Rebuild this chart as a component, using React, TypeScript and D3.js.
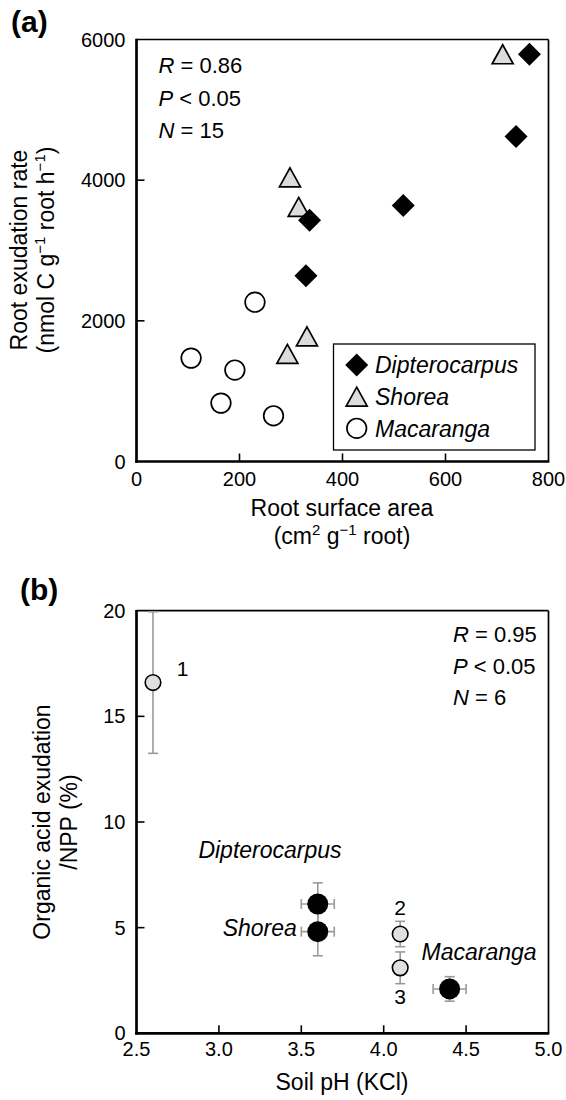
import React from "react";
import * as d3 from "d3";

const FONT = "'Liberation Sans', Arial, Helvetica, sans-serif";

// Panel (a) data: root surface area (cm2 g-1) vs root exudation rate
const dipteroArea = [763, 737, 518, 336, 329];
const dipteroRate = [5790, 4620, 3640, 3430, 2640];
const shoreaArea = [711, 298, 315, 331, 293];
const shoreaRate = [5790, 4040, 3620, 1780, 1530];
const macarangaArea = [230, 106, 191, 164, 266];
const macarangaRate = [2265, 1470, 1300, 830, 650];
const aXTicks = [0, 200, 400, 600, 800];
const aYTicks = [0, 2000, 4000, 6000];
const legendNames = ["Dipterocarpus", "Shorea", "Macaranga"];

// Panel (b) data: soil pH vs organic acid exudation / NPP
const sitePH = [2.6, 4.1, 4.1];
const siteRatio = [16.6, 4.7, 3.1];
const siteErr = [3.35, 0.6, 0.75];
const siteLabels = ["1", "2", "3"];
const siteLabelPH = [2.78, 4.1, 4.1];
const siteLabelRatio = [16.9, 5.6, 1.4];
const genusPH = [3.6, 3.6, 4.4];
const genusRatio = [6.12, 4.81, 2.1];
const genusYErr = [1.0, 1.14, 0.58];
const genusXErr = [0.1, 0.1, 0.1];
const genusNames = ["Dipterocarpus", "Shorea", "Macaranga"];
const genusLabelPH = [3.31, 3.473, 4.23];
const genusLabelRatio = [8.3, 4.6, 3.47];
const genusLabelAnchor = ["middle", "end", "start"];
const bXTicks = [2.5, 3.0, 3.5, 4.0, 4.5, 5.0];
const bYTicks = [0, 5, 10, 15, 20];

const diamond = (h: number) => `M0,${-h}L${h},0L0,${h}L${-h},0Z`;
const triangle = (w: number, h: number) =>
  `M0,${-h / 2}L${w / 2},${h / 2}L${-w / 2},${h / 2}Z`;

const SUP = 9;
const SUPFS = 15;

export default function App() {
  const xa = d3.scaleLinear().domain([0, 800]).range([136.5, 548.5]);
  const ya = d3.scaleLinear().domain([0, 6000]).range([461.5, 39.5]);
  const xb = d3.scaleLinear().domain([2.5, 5]).range([136.5, 548.5]);
  const yb = d3.scaleLinear().domain([0, 20]).range([1033.3, 610.7]);
  const fmt1 = d3.format(".1f");

  const frame = (x0: number, x1: number, y0: number, y1: number) => (
    <g>
      <line x1={x0} x2={x1} y1={y1} y2={y1} stroke="#000" strokeWidth={1.7} />
      <line x1={x1} x2={x1} y1={y1} y2={y0} stroke="#000" strokeWidth={1.7} />
      <line x1={x0} x2={x0} y1={y1 - 0.8} y2={y0 + 1.3} stroke="#000" strokeWidth={2.7} />
      <line x1={x0 - 1.3} x2={x1 + 0.8} y1={y0} y2={y0} stroke="#000" strokeWidth={2.7} />
    </g>
  );

  return (
    <svg
      width={566}
      height={1100}
      style={{ position: "absolute", left: 0, top: 0 }}
      fontFamily={FONT}
    >
      <rect width={566} height={1100} fill="#fff" />
      {/* ---------- Panel (a) ---------- */}
      <text x={11} y={32} fontSize={30} fontWeight="bold">(a)</text>
      {frame(xa(0), xa(800), ya(0), ya(6000))}
      {aXTicks.slice(1, -1).map((t) => (
        <line key={"axt" + t} x1={xa(t)} x2={xa(t)} y1={ya(0)} y2={ya(0) - 8} stroke="#000" strokeWidth={1.6} />
      ))}
      {aYTicks.slice(1, -1).map((t) => (
        <line key={"ayt" + t} x1={xa(0)} x2={xa(0) + 8} y1={ya(t)} y2={ya(t)} stroke="#000" strokeWidth={1.6} />
      ))}
      {aXTicks.map((t) => (
        <text key={"axl" + t} x={xa(t)} y={ya(0) + 24} fontSize={20} textAnchor="middle">{t}</text>
      ))}
      {aYTicks.map((t) => (
        <text key={"ayl" + t} x={xa(0) - 11} y={ya(t)} dy="0.35em" fontSize={20} textAnchor="end">{t}</text>
      ))}
      <text x={342} y={516} fontSize={23} textAnchor="middle">Root surface area</text>
      <text x={342} y={544} fontSize={23} textAnchor="middle">
        (cm<tspan dy={-SUP} fontSize={SUPFS}>2</tspan>
        <tspan dy={SUP}> g</tspan>
        <tspan dy={-SUP} fontSize={SUPFS}>−1</tspan>
        <tspan dy={SUP}> root)</tspan>
      </text>
      <g transform="translate(27,250) rotate(-90)">
        <text x={0} y={0} fontSize={23} textAnchor="middle">Root exudation rate</text>
        <text x={0} y={27} fontSize={23} textAnchor="middle">
          (nmol C g<tspan dy={-SUP} fontSize={SUPFS}>−1</tspan>
          <tspan dy={SUP}> root h</tspan>
          <tspan dy={-SUP} fontSize={SUPFS}>−1</tspan>
          <tspan dy={SUP}>)</tspan>
        </text>
      </g>
      <g fontSize={22}>
        <text x={158.5} y={73}><tspan fontStyle="italic">R</tspan> = 0.86</text>
        <text x={158.5} y={106}><tspan fontStyle="italic">P</tspan> &lt; 0.05</text>
        <text x={158.5} y={138}><tspan fontStyle="italic">N</tspan> = 15</text>
      </g>
      {/* markers */}
      {macarangaArea.map((v, i) => (
        <circle key={"m" + i} cx={xa(v)} cy={ya(macarangaRate[i])} r={9.8} fill="#fff" stroke="#000" strokeWidth={1.7} />
      ))}
      {shoreaArea.map((v, i) => (
        <path key={"s" + i} d={triangle(21, 19)} transform={`translate(${xa(v)},${ya(shoreaRate[i])})`} fill="#dcdcdc" stroke="#000" strokeWidth={1.7} />
      ))}
      {dipteroArea.map((v, i) => (
        <path key={"d" + i} d={diamond(11.5)} transform={`translate(${xa(v)},${ya(dipteroRate[i])})`} fill="#000" />
      ))}
      {/* legend */}
      <rect x={333.5} y={344} width={201.5} height={106} fill="#fff" stroke="#000" strokeWidth={1.3} />
      <path d={diamond(11.5)} transform="translate(356.7,365)" fill="#000" />
      <path d={triangle(21, 19)} transform="translate(356.7,396.7)" fill="#dcdcdc" stroke="#000" strokeWidth={1.7} />
      <circle cx={356.7} cy={428.3} r={9.8} fill="#fff" stroke="#000" strokeWidth={1.7} />
      {legendNames.map((n, i) => (
        <text key={"ln" + n} x={375} y={373 + i * 32} fontSize={23} fontStyle="italic">{n}</text>
      ))}

      {/* ---------- Panel (b) ---------- */}
      <text x={20} y={600} fontSize={30} fontWeight="bold">(b)</text>
      {frame(xb(2.5), xb(5), yb(0), yb(20))}
      {bXTicks.slice(1, -1).map((t) => (
        <line key={"bxt" + t} x1={xb(t)} x2={xb(t)} y1={yb(0)} y2={yb(0) - 8} stroke="#000" strokeWidth={1.6} />
      ))}
      {bYTicks.slice(1, -1).map((t) => (
        <line key={"byt" + t} x1={xb(2.5)} x2={xb(2.5) + 8} y1={yb(t)} y2={yb(t)} stroke="#000" strokeWidth={1.6} />
      ))}
      {bXTicks.map((t) => (
        <text key={"bxl" + t} x={xb(t)} y={yb(0) + 23} fontSize={20} textAnchor="middle">{fmt1(t)}</text>
      ))}
      {bYTicks.map((t) => (
        <text key={"byl" + t} x={xb(2.5) - 11} y={yb(t)} dy="0.35em" fontSize={20} textAnchor="end">{t}</text>
      ))}
      <text x={342} y={1090} fontSize={23} textAnchor="middle">Soil pH (KCl)</text>
      <g transform="translate(50,822) rotate(-90)">
        <text x={0} y={0} fontSize={23} textAnchor="middle">Organic acid exudation</text>
        <text x={0} y={27} fontSize={23} textAnchor="middle">/NPP (%)</text>
      </g>
      <g fontSize={22}>
        <text x={453} y={642}><tspan fontStyle="italic">R</tspan> = 0.95</text>
        <text x={453} y={674}><tspan fontStyle="italic">P</tspan> &lt; 0.05</text>
        <text x={453} y={705}><tspan fontStyle="italic">N</tspan> = 6</text>
      </g>
      {/* error bars */}
      <g stroke="#9a9a9a" strokeWidth={1.6} fill="none">
        {sitePH.map((p, i) => {
          const x = xb(p);
          const t = yb(siteRatio[i] + siteErr[i]);
          const b = yb(siteRatio[i] - siteErr[i]);
          return (
            <g key={"se" + i}>
              <line x1={x} x2={x} y1={t} y2={b} />
              <line x1={x - 5} x2={x + 5} y1={t} y2={t} />
              <line x1={x - 5} x2={x + 5} y1={b} y2={b} />
            </g>
          );
        })}
        {genusPH.map((p, i) => {
          const x = xb(p);
          const y = yb(genusRatio[i]);
          const t = yb(genusRatio[i] + genusYErr[i]);
          const b = yb(genusRatio[i] - genusYErr[i]);
          const l = xb(p - genusXErr[i]);
          const r = xb(p + genusXErr[i]);
          return (
            <g key={"ge" + i}>
              <line x1={x} x2={x} y1={t} y2={b} />
              <line x1={x - 5} x2={x + 5} y1={t} y2={t} />
              <line x1={x - 5} x2={x + 5} y1={b} y2={b} />
              <line x1={l} x2={r} y1={y} y2={y} />
              <line x1={l} x2={l} y1={y - 5} y2={y + 5} />
              <line x1={r} x2={r} y1={y - 5} y2={y + 5} />
            </g>
          );
        })}
      </g>
      {sitePH.map((p, i) => (
        <circle key={"sc" + i} cx={xb(p)} cy={yb(siteRatio[i])} r={7.8} fill="#e0e0e0" stroke="#000" strokeWidth={1.6} />
      ))}
      {genusPH.map((p, i) => (
        <circle key={"gc" + i} cx={xb(p)} cy={yb(genusRatio[i])} r={10.5} fill="#000" />
      ))}
      {siteLabels.map((s, i) => (
        <text key={"sl" + s} x={xb(siteLabelPH[i])} y={yb(siteLabelRatio[i])} fontSize={21} textAnchor="middle">{s}</text>
      ))}
      {genusNames.map((n, i) => (
        <text key={"gl" + n} x={xb(genusLabelPH[i])} y={yb(genusLabelRatio[i])} fontSize={23} fontStyle="italic" textAnchor={genusLabelAnchor[i] as any}>{n}</text>
      ))}
    </svg>
  );
}
